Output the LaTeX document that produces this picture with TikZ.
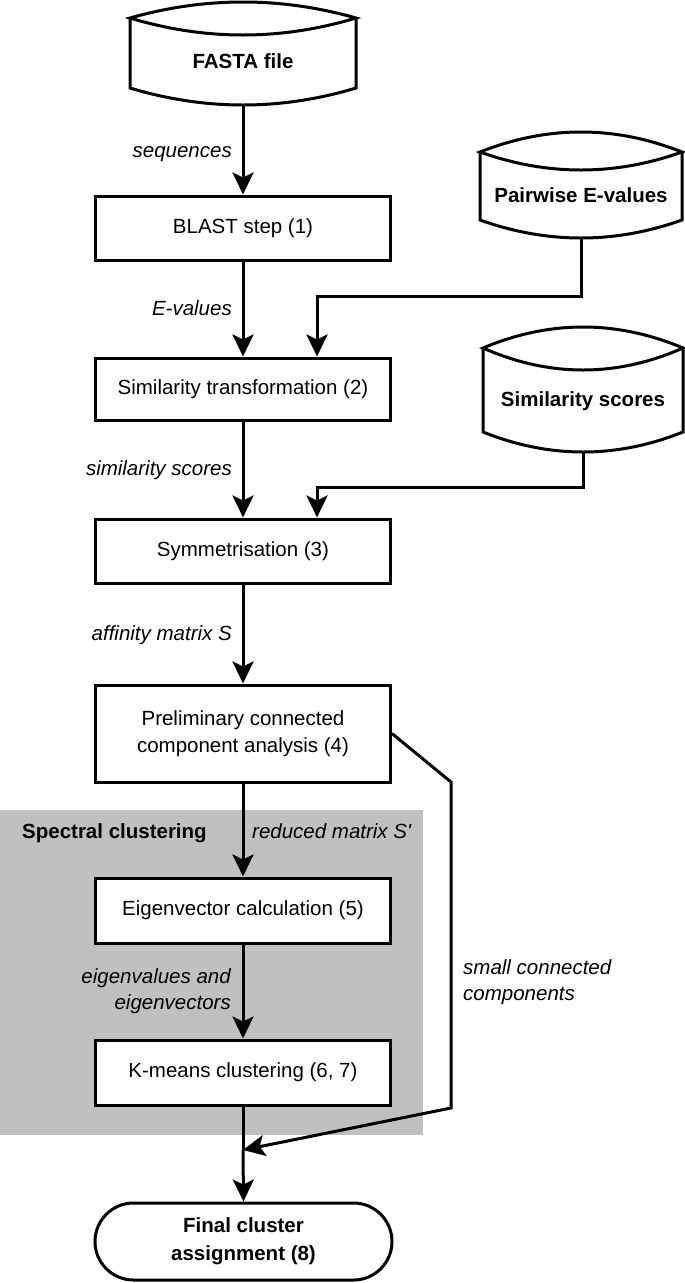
\documentclass[tikz,border=0pt]{standalone}
\usepackage{fontspec}
\setmainfont{Liberation Sans}
\usetikzlibrary{arrows.meta,calc}
\definecolor{spectralgrey}{RGB}{192,192,192}
\newcommand\storeshape[9]{%
  \draw[shapeline] ({#2-#3},#4) .. controls ({#2-#3/3},{#4-4/3*#6}) and ({#2+#3/3},{#4-4/3*#6}) .. ({#2+#3},#4)
     .. controls ({#2+#3/3},{#4+4/3*#7}) and ({#2-#3/3},{#4+4/3*#7}) .. cycle;
  \draw[shapeline] ({#2-#3},#4) -- ({#2-#3},#5) .. controls ({#2-#3/3},{#5+4/3*#8}) and ({#2+#3/3},{#5+4/3*#8}) .. ({#2+#3},#5) -- ({#2+#3},#4);
  \node[storetext, minimum width={2*#3}, minimum height={#5-#4-#7}] (#1) at (#2,{(#4+#7+#5)/2}) {#9};
}
\tikzset{
  shapeline/.style={line width=3pt, line join=miter},
  procbox/.style={draw, line width=3pt, rectangle, minimum width=295pt, inner sep=0pt, align=center,
     font=\fontsize{20.5}{26.5}\selectfont},
  storetext/.style={inner sep=0pt, align=center, font=\fontsize{20.5}{26.5}\selectfont\bfseries},
  lbl/.style={inner sep=0pt, align=right, font=\fontsize{20.5}{26.5}\selectfont\itshape, text height=15pt, text depth=4pt},
  lblL/.style={inner sep=0pt, align=left, font=\fontsize{20.5}{26.5}\selectfont\itshape},
  conn/.style={line width=3pt},
  arr/.style={line width=3pt, -{Stealth[length=22pt,width=21pt,inset=5pt]}},
}
\begin{document}
\begin{tikzpicture}[x=1pt,y=-1pt]
\useasboundingbox (0,0) rectangle (685,1283);
% grey region
\fill[spectralgrey] (0,810) rectangle (423,1135);
\node[inner sep=0pt, anchor=west, font=\fontsize{20.5}{26.5}\selectfont\bfseries] (spec) at (22,833) {Spectral clustering};

% storage shapes
\storeshape{fasta}{243}{113}{18}{88}{16}{17}{17}{FASTA file}
\storeshape{pw}{581}{101}{152}{220}{20}{18}{18}{Pairwise E-values}
\storeshape{ss}{583}{100}{348}{432}{21}{22}{20}{Similarity scores}

% process boxes
\node[procbox, minimum height=64pt] (blast) at (243,228) {BLAST step (1)};
\node[procbox, minimum height=62pt] (sim) at (243,389) {Similarity transformation (2)};
\node[procbox, minimum height=64pt] (sym) at (243,551) {Symmetrisation (3)};
\node[procbox, minimum height=97pt] (prelim) at (243,733.5) {Preliminary connected\\component analysis (4)};
\node[procbox, minimum height=65pt, fill=white] (eig) at (243,910.5) {Eigenvector calculation (5)};
\node[procbox, minimum height=65pt, fill=white] (km) at (243,1072.5) {K-means clustering (6, 7)};
\node[draw, line width=3pt, rectangle, rounded corners=38.5pt, minimum width=297pt, minimum height=77pt,
      inner sep=0pt, align=center, font=\fontsize{20.5}{28}\selectfont\bfseries] (final) at (243.5,1241.5)
      {Final cluster\\assignment (8)};

% main connectors
\draw[arr] ([yshift=-17pt]fasta.south) -- (blast.north);
\draw[arr] (blast.south) -- (sim.north);
\draw[arr] (sim.south) -- (sym.north);
\draw[arr] (sym.south) -- (prelim.north);
\draw[arr] (prelim.south) -- (eig.north);
\draw[arr] (eig.south) -- (km.north);
\coordinate (join) at (243,1150);
\draw[conn] (km.south) -- (join);
\draw[arr] (join) -- (final.north);

% side inputs
\draw[arr] ([yshift=-18pt]pw.south) -- ++(0,58) -| ([xshift=74pt]sim.north);
\draw[arr] ([yshift=-20pt]ss.south) -- ++(0,35) -| ([xshift=74pt]sym.north);

% bypass
\coordinate (b1) at (451,782);
\coordinate (b2) at (451,1108);
\draw[arr, line join=miter] (prelim.east) -- (b1) -- (b2) -- (join);

% labels
\node[lbl, anchor=east] (l1) at (232,152) {sequences};
\node[lbl, anchor=east] (l2) at (232,310) {E-values};
\node[lbl, anchor=east] (l3) at (232,470) {similarity scores};
\node[lbl, anchor=east] (l4) at (232,635) {affinity matrix S};
\node[lbl, anchor=west] (l5) at (252,833) {reduced matrix S\textquotesingle};
\node[lbl, anchor=east, text height=, text depth=] (l6) at (231,991) {eigenvalues and\\eigenvectors};
\node[lblL, anchor=west] (l7) at (463,982) {small connected\\components};
\end{tikzpicture}
\end{document}
